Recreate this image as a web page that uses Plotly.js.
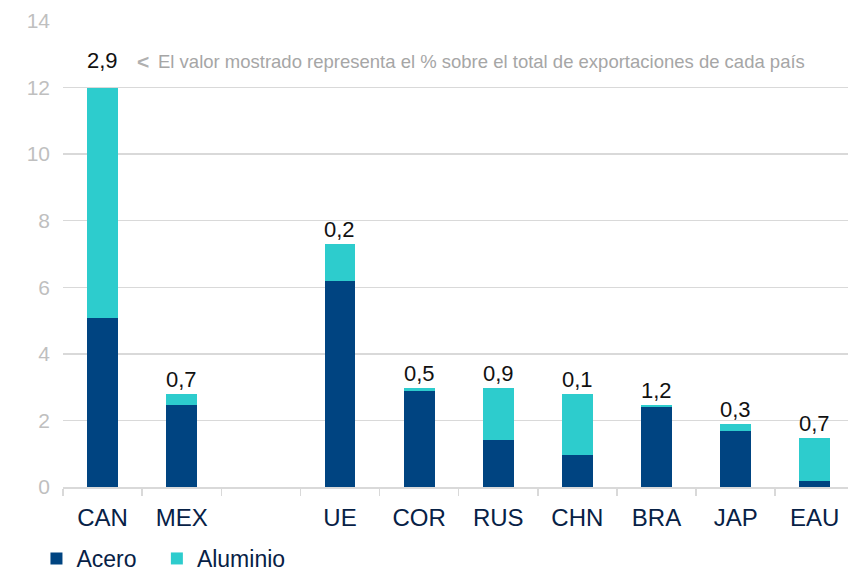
<!DOCTYPE html>
<html><head><meta charset="utf-8">
<script src="https://cdn.plot.ly/plotly-3.0.1.min.js"></script>
<style>html,body{margin:0;padding:0;background:#fff}#chart{width:848px;height:574px}</style>
</head><body><div id="chart"></div>
<script>
const categories = ["CAN","MEX"," ","UE","COR","RUS","CHN","BRA","JAP","EAU"];
const acero    = [5.07, 2.45, null, 6.18, 2.89, 1.41, 0.95, 2.39, 1.67, 0.18];
const aluminio = [6.93, 0.34, null, 1.12, 0.07, 1.55, 1.84, 0.06, 0.23, 1.28];
const pctLabels = ["2,9","0,7","","0,2","0,5","0,9","0,1","1,2","0,3","0,7"];
const noteText = "El valor mostrado representa el % sobre el total de exportaciones de cada país";

const font = "Liberation Sans, Arial, sans-serif";
const traces = [
  {type:"bar", name:"Acero", x:categories, y:acero, marker:{color:"#004481", line:{width:0}}, width:0.39, hoverinfo:"skip", legend:"legend"},
  {type:"bar", name:"Aluminio", x:categories, y:aluminio, marker:{color:"#2DCCCD", line:{width:0}}, width:0.39, hoverinfo:"skip", legend:"legend2"}
];
const annotations = [];
categories.forEach((c,i)=>{
  if(!pctLabels[i]) return;
  const tot = (acero[i]||0)+(aluminio[i]||0);
  annotations.push({x:c, y:tot, xref:"x", yref:"y", text:pctLabels[i], showarrow:false,
    yanchor:"bottom", yshift: i===0 ? 13 : 0, font:{family:font, size:22, color:"#111"}});
});
annotations.push({x:0.092, y:12.77, xref:"paper", yref:"y", xanchor:"left", yanchor:"middle", showarrow:false,
  text:"<b>&lt;</b>", font:{family:font, size:21, color:"#b0b0b0"}});
annotations.push({x:0.119, y:12.77, xref:"paper", yref:"y", xanchor:"left", yanchor:"middle", showarrow:false,
  text:noteText, font:{family:font, size:18.5, color:"#a6a6a6"}});

const legendBase = {orientation:"h", xref:"container", xanchor:"left", y:0.027, yref:"container", yanchor:"middle",
  font:{family:font, size:23, color:"#072146"}, itemwidth:30, bgcolor:"rgba(0,0,0,0)"};

const layout = {
  width:848, height:574,
  margin:{l:63, r:0, t:21, b:87},
  barmode:"stack", paper_bgcolor:"#fff", plot_bgcolor:"#fff",
  font:{family:font},
  xaxis:{type:"category", range:[-0.5, 9.42], showgrid:false, showline:true, linecolor:"#d9d9d9", linewidth:1.5,
    ticks:"outside", tickson:"boundaries", ticklen:7, tickcolor:"#d9d9d9", tickwidth:1.5, ticklabelstandoff:9,
    tickfont:{family:font, size:24, color:"#072146"}, fixedrange:true, automargin:false},
  yaxis:{range:[0,14], dtick:2, showgrid:true, gridcolor:"#d9d9d9", gridwidth:1.5, zeroline:false, showline:false,
    ticks:"", ticklabelstandoff:12, tickfont:{family:font, size:21, color:"#bfbfbf"}, fixedrange:true, automargin:false},
  legend:Object.assign({}, legendBase, {x:0.043}),
  legend2:Object.assign({}, legendBase, {x:0.185}),
  showlegend:true,
  annotations:annotations
};
Plotly.newPlot("chart", traces, layout, {displayModeBar:false, staticPlot:true});
</script></body></html>
